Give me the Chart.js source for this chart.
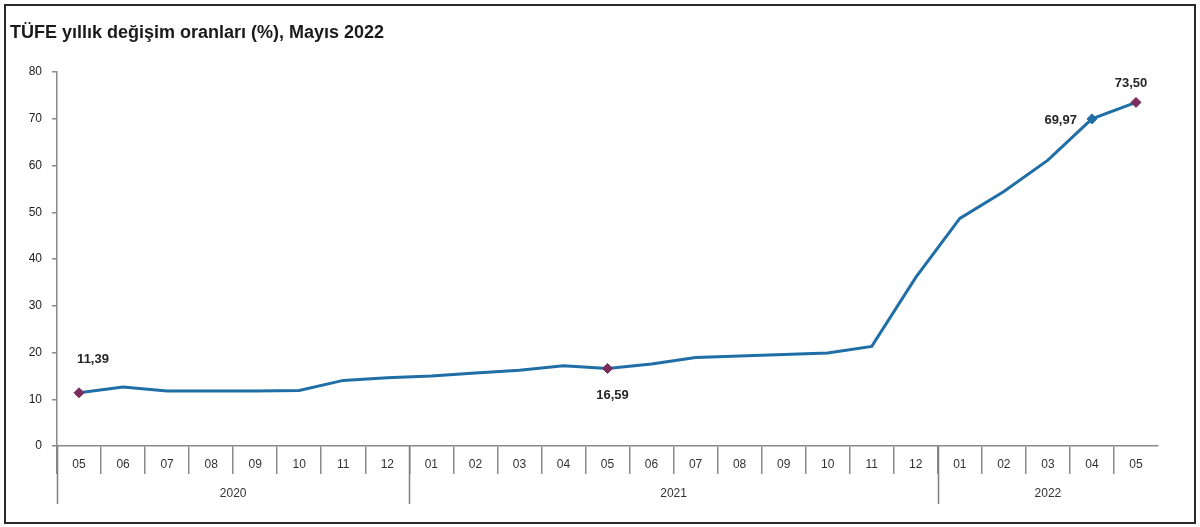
<!DOCTYPE html>
<html>
<head>
<meta charset="utf-8">
<script src="https://cdn.jsdelivr.net/npm/chart.js@4.4.1/dist/chart.umd.min.js"></script>
<style>
  html, body { margin: 0; padding: 0; background: #fff; }
  #wrap { width: 1200px; height: 527px; position: relative; }
</style>
</head>
<body>
<div id="wrap"><canvas id="tufe"></canvas></div>
<script>
// aylar (05/2020 - 05/2022)
const aylar = ['05','06','07','08','09','10','11','12',
               '01','02','03','04','05','06','07','08','09','10','11','12',
               '01','02','03','04','05'];
const yillar = ['2020', '2021', '2022'];
const yil_baslangic = [0, 8, 20];   // her yilin ilk ayinin indeksi
const tufe_yillik = [11.39, 12.62, 11.76, 11.77, 11.75, 11.89, 14.03, 14.60,
                     14.97, 15.61, 16.19, 17.14, 16.59, 17.53, 18.95, 19.25, 19.58, 19.89, 21.31, 36.08,
                     48.69, 54.44, 61.14, 69.97, 73.50];
const y_ticks = [0, 10, 20, 30, 40, 50, 60, 70, 80];
const etiketli = [0, 12, 23, 24];   // degeri yazilan noktalar

const mor = '#7b2d5e';
const mavi = '#1f6ea6';

// nokta etiketlerinin yeri (nokta merkezine gore)
const etiket_yeri = {
    0: { dx: 14, dy: -33, align: 'center' },
    12: { dx: 5, dy: 27, align: 'center' },
    23: { dx: -15, dy: 2, align: 'right' },
    24: { dx: -5, dy: -19, align: 'center' }
};

const pointR = tufe_yillik.map((v, i) => etiketli.includes(i) ? 5 : 0);
const pointC = tufe_yillik.map((v, i) => i === 23 ? mavi : mor);

const ekstralar = {
    id: 'ekstralar',
    beforeDraw(chart) {
        const ctx = chart.ctx;
        ctx.save();
        ctx.fillStyle = '#fff';
        ctx.fillRect(0, 0, chart.width, chart.height);
        ctx.strokeStyle = '#2a2a2a';
        ctx.lineWidth = 2;
        ctx.strokeRect(5, 5, chart.width - 10, chart.height - 9);
        ctx.fillStyle = '#1a1a1a';
        ctx.font = 'bold 18px "Liberation Sans", Arial, sans-serif';
        ctx.textBaseline = 'alphabetic';
        ctx.textAlign = 'left';
        ctx.fillText('TÜFE yıllık değişim oranları (%), Mayıs 2022', 10, 38);
        ctx.restore();
    },
    afterDraw(chart) {
        const ctx = chart.ctx;
        const x = chart.scales.x;
        const y0 = x.top;
        const half = (x.getPixelForValue(1) - x.getPixelForValue(0)) / 2;
        ctx.save();
        // yil ayiricilari
        ctx.strokeStyle = '#7f7f7f';
        ctx.lineWidth = 1.5;
        yil_baslangic.forEach(i => {
            const px = Math.round(x.getPixelForValue(i) - half) + 0.5;
            ctx.beginPath();
            ctx.moveTo(px, y0);
            ctx.lineTo(px, y0 + 58);
            ctx.stroke();
        });
        // yil etiketleri
        ctx.fillStyle = '#333';
        ctx.font = '12px "Liberation Sans", Arial, sans-serif';
        ctx.textAlign = 'center';
        ctx.textBaseline = 'middle';
        yillar.forEach((yil, k) => {
            const bas = yil_baslangic[k];
            const son = k + 1 < yil_baslangic.length ? yil_baslangic[k + 1] - 1 : aylar.length - 1;
            const px = (x.getPixelForValue(bas) + x.getPixelForValue(son)) / 2;
            ctx.fillText(yil, px, y0 + 48);
        });
        // deger etiketleri
        const meta = chart.getDatasetMeta(0);
        ctx.font = 'bold 13px "Liberation Sans", Arial, sans-serif';
        ctx.fillStyle = '#262626';
        etiketli.forEach(i => {
            const p = meta.data[i];
            const e = etiket_yeri[i];
            ctx.textAlign = e.align;
            ctx.fillText(tufe_yillik[i].toFixed(2).replace('.', ','), p.x + e.dx, p.y + e.dy);
        });
        ctx.restore();
    }
};

new Chart(document.getElementById('tufe'), {
    type: 'line',
    data: {
        labels: aylar,
        datasets: [{
            data: tufe_yillik,
            borderColor: mavi,
            borderWidth: 3,
            tension: 0,
            pointStyle: 'rectRot',
            pointRadius: pointR,
            pointBackgroundColor: pointC,
            pointBorderColor: pointC,
            pointBorderWidth: 1
        }]
    },
    options: {
        responsive: true,
        maintainAspectRatio: false,
        animation: false,
        layout: { padding: { left: 0, right: 42, top: 72, bottom: 0 } },
        scales: {
            x: {
                type: 'category',
                offset: true,
                grid: {
                    offset: true,
                    drawOnChartArea: false,
                    drawTicks: true,
                    tickLength: 28,
                    // en sagdaki ayiriciyi gosterme (o cizginin tick'i yok)
                    color: c => c.index === undefined ? 'rgba(0,0,0,0)' : '#8a8a8a',
                    lineWidth: 1.5
                },
                border: { color: '#8a8a8a', width: 1.5 },
                ticks: {
                    color: '#333',
                    padding: -17,
                    maxRotation: 0,
                    autoSkip: false,
                    font: { family: '"Liberation Sans", Arial, sans-serif', size: 12 }
                },
                afterFit(scale) { scale.height = 81; }
            },
            y: {
                min: 0,
                max: 80,
                afterBuildTicks(scale) { scale.ticks = y_ticks.map(v => ({ value: v })); },
                grid: {
                    drawOnChartArea: false,
                    drawTicks: true,
                    tickLength: 5,
                    color: '#8a8a8a',
                    lineWidth: 1.5
                },
                border: { color: '#8a8a8a', width: 1.5 },
                ticks: {
                    color: '#222',
                    padding: 10,
                    font: { family: '"Liberation Sans", Arial, sans-serif', size: 12 }
                },
                afterFit(scale) { scale.width = 57; }
            }
        },
        plugins: {
            legend: { display: false },
            title: { display: false },
            tooltip: { enabled: false }
        }
    },
    plugins: [ekstralar]
});
</script>
</body>
</html>
